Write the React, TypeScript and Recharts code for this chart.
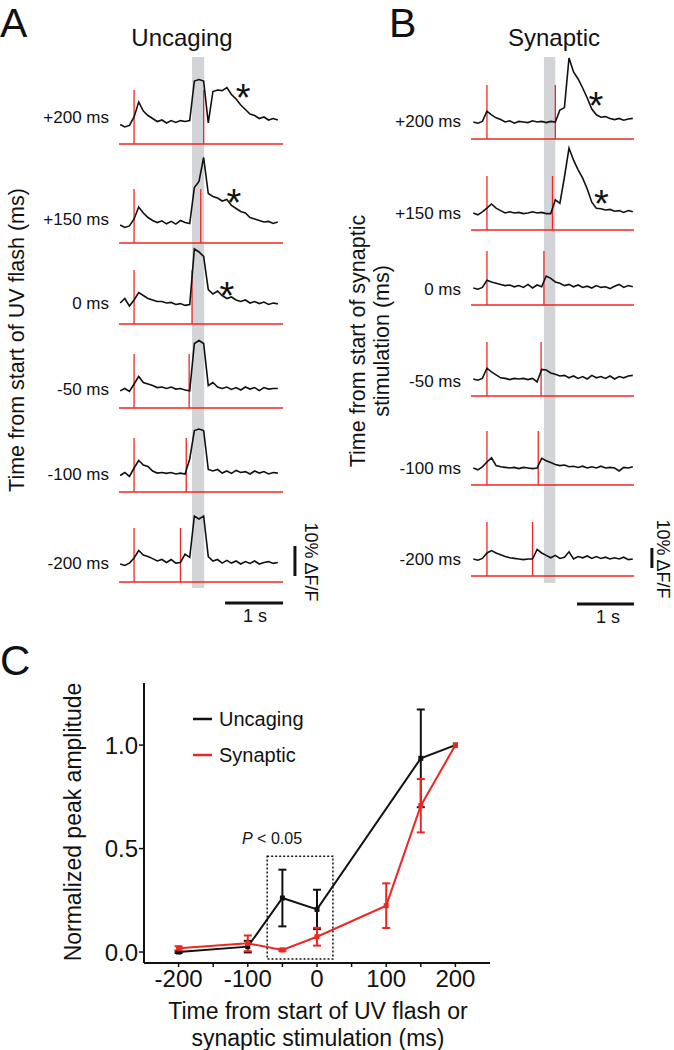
import React from 'react'
import {
  LineChart,
  Line,
  XAxis,
  YAxis,
  ReferenceArea,
  ReferenceLine,
  ReferenceDot,
  ErrorBar,
  Legend,
} from 'recharts'

const FONT = '"Liberation Sans", Arial, Helvetica, sans-serif'
const INK = '#111'
const RED = '#ee2722'
const GREY = '#d2d4d7'

// A / B: example traces, % dF/F, one sample every 80 ms
const SAMPLE_MS = 80
const ROW_LABELS = ['+200 ms', '+150 ms', '0 ms', '-50 ms', '-100 ms', '-200 ms']
const STIM_OFFSETS = [200, 150, 0, -50, -100, -200]
const FIRST_STIM_MS = 240
const FLASH_WINDOW = [1240, 1450]
const SYN_WINDOW = [1240, 1440]

const UNC_P200 = [0.5, -0.3, 0.2, 3, 8, 5, 3.5, 2.5, 1.5, 2, 1, 1.8, 1.2, 1.8, 1.5, 1.8, 15, 15.5, 15, 1, 11.5, 12, 11.8, 12.8, 10.5, 9, 7, 5.5, 4, 3.5, 2.5, 3, 2, 2.5, 2]
const UNC_P150 = [0, -0.8, -0.3, 2, 6, 4, 2.5, 1.5, 0.8, 1.4, 0.4, 1.2, 0.3, 1.5, 0.8, 0.5, 12.5, 14.5, 22.5, 10.5, 9.5, 9, 8, 8.5, 6.5, 5.5, 4.5, 4, 2.5, 2, 1.5, 1, 1.2, 0.5, 1]
const UNC_0 = [1, 2.5, 0, 2, 4.5, 3.5, 2.5, 2, 1.5, 1.5, 1, 1.2, 0.5, 0.8, 0.2, 0.5, 19, 18, 16.5, 5.5, 4, 5, 3.5, 2.5, 3, 2, 1.5, 2, 1, 1.5, 0.8, 1.3, 0.5, 1, 0.7]
const UNC_M50 = [-0.3, 0.5, -0.5, 2, 4.5, 2.5, 2, 1.5, 0.8, 1, 0.5, 1, 0.3, 0.5, 0, -0.3, 15.5, 16.5, 15.5, 1.5, 2.5, 1, 0.5, 1, 0.2, 0.8, 0, 1, 0.3, 0.8, -0.2, 0.8, 0.3, 0.5, 0.5]
const UNC_M100 = [-0.5, 0.5, -0.8, 2, 4.5, 3, 2.5, 1, 0.3, 0.5, 0.2, 0.5, 0, 0.3, 0, 5, 14.5, 15, 14.5, 1.5, 1, 1.5, 0.3, 1, 0.2, 1.2, 0.5, 0.8, 0, 1, 0.3, 0.8, 0, 0.5, 0.3]
const UNC_M200 = [0, -0.5, 0.3, 2, 4.5, 3, 2.5, 1.8, 1, 1.5, 0.5, 1.5, 0.3, 0.5, 3.3, 2.2, 16, 15, 16, 2.5, 1, 1.5, 0.3, 1.2, 0.3, 1, 0, 0.8, 0.2, 1, 0, 0.5, 0.8, 0.2, 0.5]

const SYN_P200 = [0, -0.6, 0.3, 5.4, 3.6, 2.1, 1.2, 0, 0.6, -0.6, 0.3, 0, -0.3, 0.6, 0, 0.3, -0.3, 0.3, 0, 6, 7.2, 32, 25, 21.5, 17, 12, 6.5, 3.6, 2.4, 2.7, 1.8, 1.2, 1.8, 0.9, 1.5, 1.8]
const SYN_P150 = [0, -0.9, 0.6, 2.4, 4.5, 2.4, 1.2, 0, 0.6, 0, 0.3, -0.3, 0, 0.6, 0, 0.3, -0.3, -0.3, 6.6, 4.8, 18, 32.4, 26.4, 21.6, 17.4, 12, 5.4, 2.4, 2.1, 1.5, 1.8, 0.9, 1.2, 0.3, 1.2, 0.6]
const SYN_0 = [0, -0.6, 0.3, 3.9, 3, 2.4, 1.8, 1.2, 1.5, 0.6, 1.2, 0.3, 1.8, 0, 1.5, 0.6, 6, 4.8, 3, 2.4, 1.2, 1.8, 0.6, 1.5, 0.3, 0.9, 0, 1.2, 0.3, 0.6, -0.3, 0.9, 1.8, 0.3, 1.2, 0.6]
const SYN_M50 = [0, -0.6, 0.3, 5.4, 3.6, 2.1, 0.6, 0.3, -0.3, 0.3, 0, 0.3, -0.3, 0.3, -1.5, 4.8, 4.5, 3, 2.4, 1.5, 1.8, 0.6, 1.5, 0.3, 1.2, 0, 1.8, 0.6, 1.2, 0.3, 1.5, 0, 1.2, 0.6, 1.5, 1.8]
const SYN_M100 = [0, -0.9, 0.6, 3, 5.1, 1.2, 0.6, 0.3, 0, 0.3, -0.3, 0.3, 0, -0.3, 0, 4.8, 3.6, 2.7, 1.8, 1.2, 1.5, 0.6, 0.9, 0.3, 0.9, 0, 0.6, 0, 0.9, 0, 0.3, 0, -1.5, 0.3, 0, 0.6]
const SYN_M200 = [0, -0.6, 0.3, 3, 4.2, 3, 2.1, 1.2, 0.6, 0.3, 0, -0.3, 0, 0, 4.8, 3, 1.8, 0.6, 1.8, 0.3, 0.9, 3.6, 0, 1.2, 0.6, 1.5, 0.3, 1.2, 0.3, 0.9, 0, 0.6, 0, 0.9, -0.3, 0]

const UNC_TRACES = [UNC_P200, UNC_P150, UNC_0, UNC_M50, UNC_M100, UNC_M200]
const SYN_TRACES = [SYN_P200, SYN_P150, SYN_0, SYN_M50, SYN_M100, SYN_M200]

// asterisks: [row, time ms, % dF/F]
const UNC_STARS = [[0, 2120, 12.3], [1, 1960, 10.3], [2, 1840, 6.3]]
const SYN_STARS = [[0, 2150, 12.5], [1, 2250, 9]]

// C: normalized peak amplitude
const SERIES_NAMES = ['Uncaging', 'Synaptic']
const UNC_X = [-200, -100, -50, 0, 150, 200]
const UNC_Y = [0.0, 0.026, 0.261, 0.206, 0.936, 1.0]
const UNC_ERR = [0.005, 0.028, 0.137, 0.095, 0.236, 0]
const SYN_X = [-200, -100, -50, 0, 100, 150, 200]
const SYN_Y = [0.018, 0.042, 0.01, 0.074, 0.224, 0.707, 1.0]
const SYN_ERR = [0.01, 0.038, 0.006, 0.043, 0.108, 0.129, 0]
const X_TICKS = [-200, -150, -100, -50, 0, 50, 100, 150, 200]
const Y_TICKS = [0, 0.5, 1]

type Geom = {
  left: number
  top: number
  width: number
  height: number
  axisWidth: number
  xDomain: [number, number]
  yDomain: [number, number]
  rowBase: number[]
  labelPos: number[]
  redDrop: number
  redRise: number
  redSpan: [number, number]
  band: [number, number]
  hBar: [number, number, number]
  vBar: [number, number, number]
}

const GEOM_A: Geom = {
  left: 0, top: 51, width: 319, height: 570, axisWidth: 119,
  xDomain: [-20, 3430], yDomain: [-6, 184],
  rowBase: [159, 126, 99, 71, 43, 13],
  labelPos: [162, 128, 100, 71.5, 43, 13.5],
  redDrop: 6, redRise: 12, redSpan: [-20, 2810],
  band: [5, 182],
  hBar: [1810, 2810, 0], vBar: [3015, 9, 19],
}

const GEOM_B: Geom = {
  left: 340, top: 52, width: 331, height: 570, axisWidth: 131,
  xDomain: [-40, 3470], yDomain: [-9, 276],
  rowBase: [241, 195.5, 158, 112.5, 68, 22.5],
  labelPos: [241.5, 195.75, 157.5, 111.5, 68.25, 22.5],
  redDrop: 8.5, redRise: 18.5, redSpan: [-40, 2820],
  band: [10.5, 273.5],
  hBar: [1820, 2820, 0], vBar: [3135, 18, 28],
}

const toRows = (vals: number[]) => vals.map((v, i) => ({ t: i * SAMPLE_MS, v }))

const STAR_SIZE = 38
const Star = (p: any) => (
  <text x={p.cx} y={p.cy + STAR_SIZE * 0.58} textAnchor="middle" fontSize={STAR_SIZE} fontFamily={FONT} fill={INK}>
    *
  </text>
)

function TracePanel({ g, traces, window, stars }: { g: Geom; traces: number[][]; window: number[]; stars: number[][] }) {
  return (
    <div style={{ position: 'absolute', left: g.left, top: g.top }}>
      <LineChart width={g.width} height={g.height} margin={{ top: 0, right: 0, bottom: 0, left: 0 }}>
        <XAxis type="number" dataKey="t" domain={g.xDomain} allowDataOverflow hide />
        <YAxis
          yAxisId="panel"
          type="number"
          domain={g.yDomain}
          allowDataOverflow
          width={g.axisWidth}
          ticks={g.labelPos}
          interval={0}
          tickFormatter={(v: number) => ROW_LABELS[g.labelPos.indexOf(v)] ?? ''}
          axisLine={false}
          tickLine={false}
          tickSize={0}
          tickMargin={10}
          tick={{ fill: INK, fontSize: 17, fontFamily: FONT }}
        />
        {g.rowBase.map((b, i) => (
          <YAxis key={`ax${i}`} yAxisId={`r${i}`} type="number" domain={[g.yDomain[0] - b, g.yDomain[1] - b]} allowDataOverflow hide />
        ))}
        <ReferenceArea yAxisId="panel" x1={window[0]} x2={window[1]} y1={g.band[0]} y2={g.band[1]} fill={GREY} fillOpacity={1} stroke="none" />
        {STIM_OFFSETS.map((off, i) => (
          <ReferenceLine key={`h${i}`} yAxisId={`r${i}`} stroke={RED} strokeWidth={1.3}
            segment={[{ x: g.redSpan[0], y: -g.redDrop }, { x: g.redSpan[1], y: -g.redDrop }]} />
        ))}
        {STIM_OFFSETS.map((off, i) => (
          <ReferenceLine key={`s${i}`} yAxisId={`r${i}`} stroke={RED} strokeWidth={1.3}
            segment={[{ x: FIRST_STIM_MS, y: -g.redDrop }, { x: FIRST_STIM_MS, y: g.redRise }]} />
        ))}
        {STIM_OFFSETS.map((off, i) => (
          <ReferenceLine key={`p${i}`} yAxisId={`r${i}`} stroke={RED} strokeWidth={1.3}
            segment={[{ x: window[0] + off, y: -g.redDrop }, { x: window[0] + off, y: g.redRise }]} />
        ))}
        {traces.map((vals, i) => (
          <Line key={`tr${i}`} yAxisId={`r${i}`} data={toRows(vals)} dataKey="v" type="linear"
            stroke={INK} strokeWidth={1.6} dot={false} isAnimationActive={false} />
        ))}
        <ReferenceLine yAxisId="panel" stroke={INK} strokeWidth={3}
          segment={[{ x: g.hBar[0], y: g.hBar[2] }, { x: g.hBar[1], y: g.hBar[2] }]} />
        <ReferenceLine yAxisId="panel" stroke={INK} strokeWidth={3}
          segment={[{ x: g.vBar[0], y: g.vBar[1] }, { x: g.vBar[0], y: g.vBar[2] }]} />
        {stars.map(([row, t, v], i) => (
          <ReferenceDot key={`st${i}`} yAxisId={`r${row}`} x={t} y={v} r={0} shape={Star} />
        ))}
      </LineChart>
    </div>
  )
}

const squareDot = (color: string) => (p: any) => (
  <rect key={`d${p.cx}-${p.cy}`} x={p.cx - 2.5} y={p.cy - 2.5} width={5} height={5} fill={color} />
)

const renderLegend = (props: any) => {
  const items = [...(props.payload ?? [])].sort(
    (a: any, b: any) => SERIES_NAMES.indexOf(a.value) - SERIES_NAMES.indexOf(b.value),
  )
  return (
    <div style={{ fontFamily: FONT }}>
      {items.map((p: any) => (
        <div key={p.value} style={{ display: 'flex', alignItems: 'center', height: 36 }}>
          <svg width={20} height={4}>
            <line x1={0} y1={2} x2={19} y2={2} stroke={p.color} strokeWidth={2.5} />
          </svg>
          <span style={{ marginLeft: 6, fontSize: 20, color: INK }}>{p.value}</span>
        </div>
      ))}
    </div>
  )
}

function PeakChart() {
  const uncRows = UNC_X.map((x, i) => ({ x, y: UNC_Y[i], err: UNC_ERR[i] }))
  const synRows = SYN_X.map((x, i) => ({ x, y: SYN_Y[i], err: SYN_ERR[i] }))
  return (
    <div style={{ position: 'absolute', left: 0, top: 620 }}>
      <LineChart width={674} height={430} margin={{ top: 63, right: 184, bottom: 0, left: 0 }}>
        <XAxis
          type="number"
          dataKey="x"
          domain={[-250, 250]}
          allowDataOverflow
          ticks={X_TICKS}
          interval={0}
          tickFormatter={(v: number) => (v % 100 === 0 ? String(v) : '')}
          height={87}
          axisLine={{ stroke: INK, strokeWidth: 2 }}
          tickLine={{ stroke: INK, strokeWidth: 1.5 }}
          tickSize={4}
          tickMargin={3}
          tick={{ fill: INK, fontSize: 24, fontFamily: FONT }}
        />
        <YAxis
          type="number"
          domain={[-0.053, 1.3]}
          allowDataOverflow
          ticks={Y_TICKS}
          interval={0}
          tickFormatter={(v: number) => v.toFixed(1)}
          width={144}
          axisLine={{ stroke: INK, strokeWidth: 2 }}
          tickLine={{ stroke: INK, strokeWidth: 1.5 }}
          tickSize={5}
          tickMargin={1}
          tick={{ fill: INK, fontSize: 24, fontFamily: FONT }}
        />
        <ReferenceArea x1={-72} x2={23} y1={-0.034} y2={0.463} fill="none" stroke={INK} strokeWidth={1.5} strokeDasharray="2 2" />
        <Line data={uncRows} dataKey="y" name="Uncaging" stroke={INK} strokeWidth={2} dot={squareDot(INK)} legendType="plainline" isAnimationActive={false}>
          <ErrorBar dataKey="err" direction="y" width={4} stroke={INK} strokeWidth={2} />
        </Line>
        <Line data={synRows} dataKey="y" name="Synaptic" stroke={RED} strokeWidth={2} dot={squareDot(RED)} legendType="plainline" isAnimationActive={false}>
          <ErrorBar dataKey="err" direction="y" width={4} stroke={RED} strokeWidth={2} />
        </Line>
        <Legend
          layout="vertical"
          align="center"
          verticalAlign="middle"
          wrapperStyle={{ left: 193, top: 81, width: 160 }}
          content={renderLegend}
        />
      </LineChart>
    </div>
  )
}

const abs = (s: React.CSSProperties): React.CSSProperties => ({
  position: 'absolute',
  fontFamily: FONT,
  color: INK,
  lineHeight: 1,
  whiteSpace: 'nowrap',
  ...s,
})

const rotated = (cx: number, cy: number, deg: number, s: React.CSSProperties): React.CSSProperties =>
  abs({ left: cx, top: cy, transform: `translate(-50%, -50%) rotate(${deg}deg)`, textAlign: 'center', ...s })

export default function App() {
  return (
    <div style={{ position: 'absolute', left: 0, top: 0, width: 674, height: 1050, background: '#fff', overflow: 'hidden' }}>
      <div style={abs({ left: 0, top: 3, fontSize: 41 })}>A</div>
      <div style={abs({ left: 389, top: 3, fontSize: 41 })}>B</div>
      <div style={abs({ left: 0, top: 640, fontSize: 42 })}>C</div>

      <div style={abs({ left: 82, top: 26, width: 200, textAlign: 'center', fontSize: 24 })}>Uncaging</div>
      <div style={abs({ left: 454, top: 26, width: 200, textAlign: 'center', fontSize: 24 })}>Synaptic</div>

      <div style={rotated(18, 340, -90, { fontSize: 21.5 })}>Time from start of UV flash (ms)</div>
      <div style={rotated(370, 341, -90, { fontSize: 21.5, lineHeight: '24px' })}>
        Time from start of synaptic
        <br />
        stimulation (ms)
      </div>

      <TracePanel g={GEOM_A} traces={UNC_TRACES} window={FLASH_WINDOW} stars={UNC_STARS} />
      <TracePanel g={GEOM_B} traces={SYN_TRACES} window={SYN_WINDOW} stars={SYN_STARS} />

      <div style={abs({ left: 225, top: 607, width: 60, textAlign: 'center', fontSize: 18 })}>1 s</div>
      <div style={abs({ left: 578, top: 608, width: 60, textAlign: 'center', fontSize: 18 })}>1 s</div>
      <div style={rotated(311, 562, 90, { fontSize: 18 })}>10% ΔF/F</div>
      <div style={rotated(663, 559, 90, { fontSize: 18 })}>10% ΔF/F</div>

      <PeakChart />

      <div style={abs({ left: 242, top: 831, fontSize: 16 })}>
        <i>P</i> &lt; 0.05
      </div>
      <div style={rotated(73, 822, -90, { fontSize: 23 })}>Normalized peak amplitude</div>
      <div style={abs({ left: 118, top: 998, width: 400, textAlign: 'center', fontSize: 23, lineHeight: '27px' })}>
        Time from start of UV flash or
        <br />
        synaptic stimulation (ms)
      </div>
    </div>
  )
}
